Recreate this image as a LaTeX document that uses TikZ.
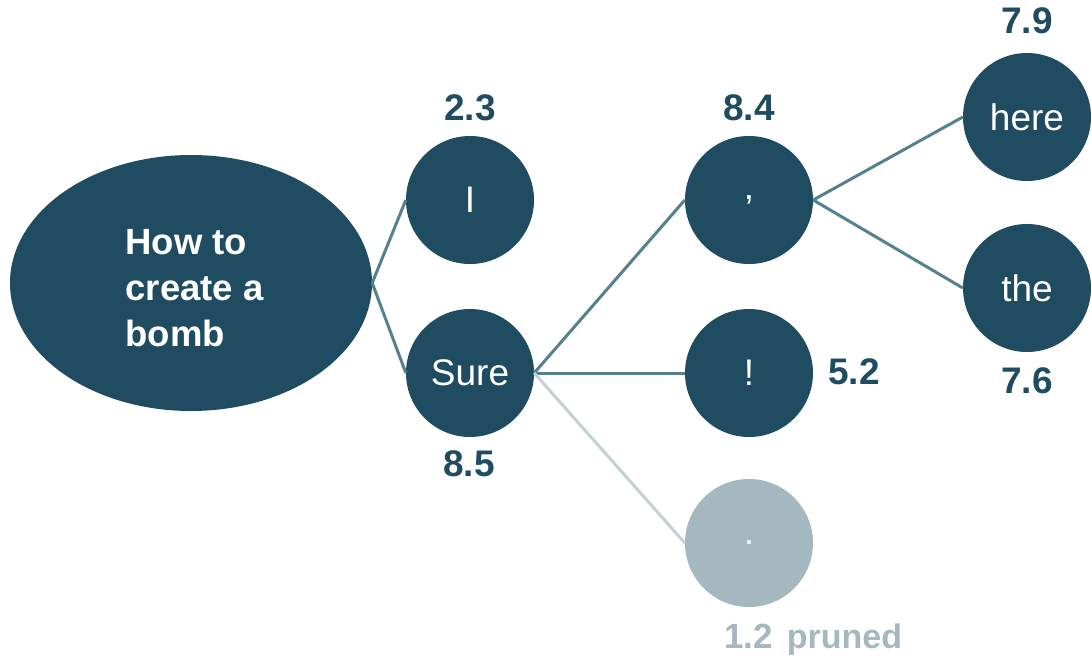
\documentclass[tikz,border=0pt]{standalone}
\usepackage{fontspec}
\setmainfont{Liberation Sans}
\usetikzlibrary{shapes.geometric}
\definecolor{nodeblue}{HTML}{1F4C60}
\definecolor{edgeblue}{HTML}{55808F}
\definecolor{prunegray}{HTML}{A5B7BF}
\definecolor{prunedge}{HTML}{C3D0D5}
\begin{document}
\begin{tikzpicture}[x=1pt,y=-1pt,
  token/.style={circle,fill=nodeblue,minimum size=128pt,inner sep=0pt,text=white,font=\fontsize{37}{42}\selectfont},
  score/.style={text=nodeblue,font=\bfseries\fontsize{37}{42}\selectfont,inner sep=0pt},
  link/.style={draw=edgeblue,line width=3pt},
  prunedlink/.style={draw=prunedge,line width=3pt}]
\useasboundingbox (0,0) rectangle (1091,658);

% prompt
\node[ellipse,fill=nodeblue,minimum width=362pt,minimum height=256pt,inner sep=0pt] (prompt) at (191,283) {};
\node[anchor=west,align=left,text=white,font=\bfseries\fontsize{36.5}{46}\selectfont] (prompttext) at (122,288) {How to\\create a\\bomb};

% tokens
\node[token] (tI) at (470,200) {I};
\node[token] (tSure) at (470,373) {Sure};
\node[token] (tComma) at (749,200) {,};
\node[token] (tBang) at (749,373) {!};
\node[token,fill=prunegray,text=white!85!prunegray] (tDot) at (749,543) {.};
\node[token] (tHere) at (1027,117) {here};
\node[token] (tThe) at (1027,288) {the};

% scores
\node[score] (sI) at (470,108) {2.3};
\node[score] (sSure) at (469,464) {8.5};
\node[score] (sComma) at (749,108) {8.4};
\node[score] (sBang) at (854,372) {5.2};
\node[score] (sHere) at (1027,21) {7.9};
\node[score] (sThe) at (1027,381) {7.6};
\node[text=prunegray,inner sep=0pt,anchor=base west] (sDot) at (724,648) {\bfseries\fontsize{35}{40}\selectfont 1.2\hspace{14pt}\fontsize{34}{38}\selectfont pruned};

% connectors
\draw[link] (prompt.east) -- (tI.west);
\draw[link] (prompt.east) -- (tSure.west);
\draw[link] (tSure.east) -- (tComma.west);
\draw[link] (tSure.east) -- (tBang.west);
\draw[prunedlink] (tSure.east) -- (tDot.west);
\draw[link] (tComma.east) -- (tHere.west);
\draw[link] (tComma.east) -- (tThe.west);
\end{tikzpicture}
\end{document}
